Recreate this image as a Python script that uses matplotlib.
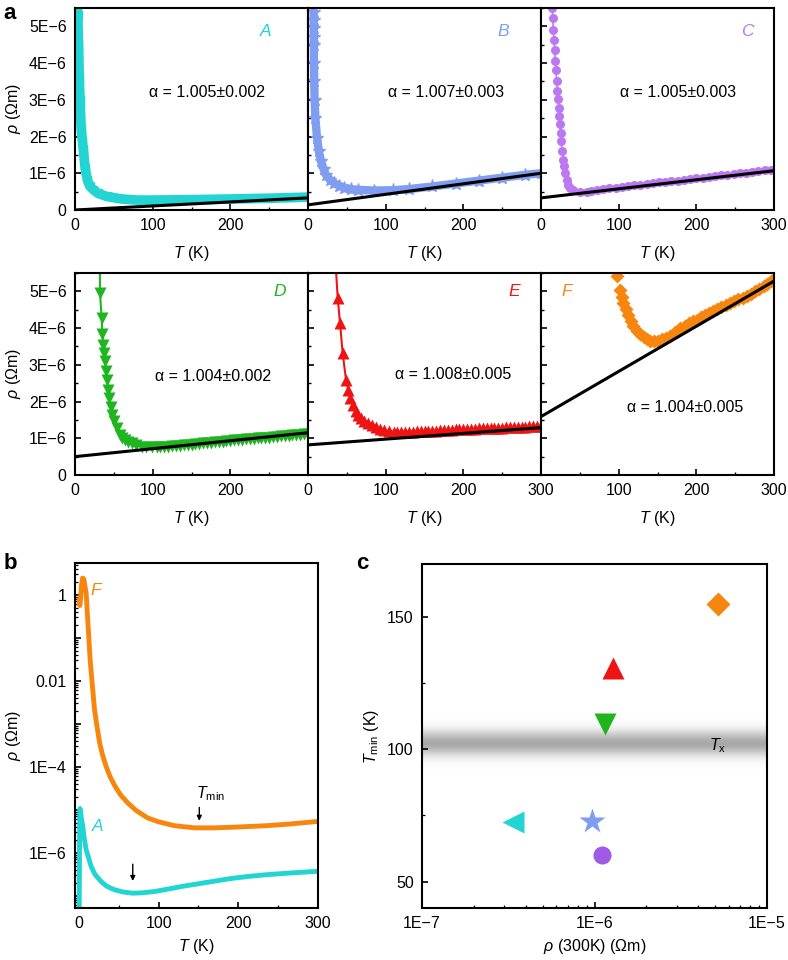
import numpy as np
import matplotlib
matplotlib.use('Agg')
import matplotlib.pyplot as plt
from matplotlib.ticker import FixedLocator, MultipleLocator, LogLocator, FuncFormatter, NullFormatter

plt.rcParams['font.family'] = ['Liberation Sans', 'DejaVu Sans']
plt.rcParams['mathtext.fontset'] = 'custom'
plt.rcParams['mathtext.rm'] = 'Liberation Sans'
plt.rcParams['mathtext.it'] = 'Liberation Sans:italic'
plt.rcParams['mathtext.bf'] = 'Liberation Sans:bold'
plt.rcParams['axes.unicode_minus'] = True

# ---------------- panel a data (rho in units of 1E-6 Ohm m) ----------------
A_T = [2.5, 3.5, 4.5, 5.5, 6.4, 8.0, 10.7, 13.0, 15.9, 19.0, 23.6, 30.0, 40.8, 60.0, 80.0, 100.0, 150.0, 200.0, 250.0, 300.0]
A_rho = [6.0, 5.3, 4.5, 3.6, 3.0, 2.2, 1.65, 1.15, 0.82, 0.65, 0.55, 0.45, 0.37, 0.30, 0.27, 0.27, 0.28, 0.30, 0.32, 0.35]

B_T = [7.2, 7.3, 7.4, 7.5, 7.6, 7.7, 8.0, 8.5, 9.5, 11.6, 14.0, 16.7, 20.0, 23.0, 28.0, 34.0, 40.0, 46.8, 55.0, 64.0,
       85.0, 110.0, 130.0, 160.0, 190.0, 220.0, 250.0, 280.0, 300.0]
B_rho = [5.40, 5.17, 4.95, 4.72, 4.49, 4.0, 3.5, 3.0, 2.5, 1.97, 1.6, 1.33, 1.12, 0.96, 0.83, 0.73, 0.66, 0.61, 0.57, 0.55,
         0.53, 0.54, 0.57, 0.64, 0.72, 0.80, 0.88, 0.96, 1.00]

C_T = [14.6, 15.0, 15.9, 16.7, 17.6, 18.4, 19.3, 20.2, 21.0, 22.3, 23.2, 23.6, 24.5, 25.3, 26.2, 27.0, 28.7, 29.6, 31.3, 33.0,
       35.1, 37.3, 41.6, 50.2, 58.8, 65, 72, 80, 88, 96, 104, 112, 120, 128, 136, 144, 152, 160, 168, 176, 184, 192, 200,
       208, 216, 224, 232, 240, 248, 256, 264, 272, 280, 288, 296]
C_rho = [5.49, 5.22, 4.90, 4.62, 4.35, 4.07, 3.80, 3.52, 3.25, 3.02, 2.79, 2.56, 2.34, 2.11, 1.88, 1.60, 1.37, 1.19, 1.01, 0.82,
         0.69, 0.60, 0.55, 0.50, 0.48, 0.53, 0.55, 0.57, 0.59, 0.61, 0.63, 0.65, 0.67, 0.69, 0.71, 0.73, 0.75, 0.77, 0.79, 0.80,
         0.82, 0.84, 0.86, 0.88, 0.90, 0.92, 0.94, 0.96, 0.98, 1.00, 1.02, 1.04, 1.06, 1.08, 1.10]

D_T = [32.0, 32.2, 34.3, 35.2, 36.5, 37.3, 38.6, 39.9, 41.2, 42.9, 44.2, 45.9, 48.0, 50.6, 53.6, 57.9, 61.0, 64.4, 68.0, 72.9,
       78.0, 85.8, 92.0, 98.7, 105, 110, 115, 120, 125, 130, 135, 140, 145, 150, 155, 160, 165, 170, 175, 180, 185, 190,
       195, 200, 205, 210, 215, 220, 225, 230, 235, 240, 245, 250, 255, 260, 265, 270, 275, 280, 285, 290, 295, 300]
D_rho = [5.7, 4.96, 4.28, 3.83, 3.55, 3.32, 3.10, 2.82, 2.59, 2.32, 2.09, 1.86, 1.64, 1.46, 1.27, 1.09, 1.02, 0.96, 0.91, 0.86,
         0.81, 0.77, 0.76, 0.75, 0.75, 0.75, 0.76, 0.77, 0.78, 0.79, 0.80, 0.81, 0.82, 0.83, 0.84, 0.85, 0.86, 0.87, 0.88, 0.89,
         0.90, 0.91, 0.92, 0.93, 0.94, 0.95, 0.96, 0.97, 0.98, 0.99, 1.00, 1.00, 1.01, 1.02, 1.03, 1.04, 1.05, 1.06, 1.07, 1.08,
         1.09, 1.10, 1.11, 1.12]

E_T = [36.0, 38.2, 41.2, 44.6, 48.9, 51.9, 54.5, 57.5, 61.8, 65.0, 68.2, 72.0, 76.8, 82.0, 87.5, 93.0, 98.2, 104.0, 111.0,
       115, 120, 125, 130, 135, 140, 145, 150, 155, 160, 165, 170, 175, 180, 185, 190, 195, 200, 205, 210, 215, 220, 225,
       230, 235, 240, 245, 250, 255, 260, 265, 270, 275, 280, 285, 290, 295, 300]
E_rho = [5.6, 4.83, 4.14, 3.32, 2.60, 2.32, 2.10, 1.91, 1.73, 1.63, 1.55, 1.47, 1.41, 1.35, 1.30, 1.26, 1.23, 1.20, 1.18,
         1.18, 1.18, 1.18, 1.18, 1.18, 1.19, 1.19, 1.20, 1.20, 1.21, 1.21, 1.22, 1.22, 1.23, 1.23, 1.24, 1.24, 1.25, 1.25, 1.26,
         1.26, 1.27, 1.27, 1.28, 1.28, 1.29, 1.29, 1.29, 1.30, 1.30, 1.31, 1.31, 1.32, 1.32, 1.33, 1.33, 1.34, 1.34]

F_T = [98.2, 101.7, 104, 106, 109, 112.5, 116, 119, 123, 127.5, 132, 136, 140, 145, 150, 155.6, 161, 166, 172, 179, 185, 191,
       196, 200.6, 206, 211, 216, 222, 227, 232, 238, 243.6, 249, 254, 260, 265, 270, 276, 281, 286.6, 291, 296, 299.5]
F_rho = [5.42, 5.05, 4.85, 4.69, 4.52, 4.37, 4.20, 4.05, 3.93, 3.83, 3.75, 3.69, 3.66, 3.64, 3.65, 3.69, 3.72, 3.78, 3.88, 4.00,
         4.07, 4.13, 4.19, 4.23, 4.29, 4.35, 4.40, 4.46, 4.51, 4.57, 4.63, 4.69, 4.74, 4.78, 4.83, 4.87, 4.93, 5.00, 5.07, 5.14,
         5.20, 5.27, 5.33]

# linear fits: value at T = 0 K and T = 300 K
FIT_T = [0, 300]
A_fit = [0.00, 0.33]
B_fit = [0.14, 1.00]
C_fit = [0.33, 1.07]
D_fit = [0.50, 1.15]
E_fit = [0.82, 1.29]
F_fit = [1.59, 5.28]

alpha_labels = ['α = 1.005±0.002', 'α = 1.007±0.003', 'α = 1.005±0.003',
                'α = 1.004±0.002', 'α = 1.008±0.005', 'α = 1.004±0.005']
sample_names = ['A', 'B', 'C', 'D', 'E', 'F']

# ---------------- panel b data (log10 rho) ----------------
bA_T = [0.3, 0.5, 0.7, 0.9, 1.2, 2.0, 3.0, 4.8, 6.5, 9.0, 15.3, 20.0, 27.8, 35.0, 44.5, 55.0, 67.5, 80.0, 95.0, 110.0, 130.0,
        150.0, 170.0, 190.0, 212.0, 235.0, 265.0, 300.0]
bA_logrho = [-7.3, -6.6, -5.8, -5.2, -4.97, -5.05, -5.2, -5.39, -5.65, -5.93, -6.32, -6.5, -6.67, -6.78, -6.86, -6.91, -6.94,
             -6.93, -6.90, -6.85, -6.78, -6.72, -6.66, -6.6, -6.55, -6.51, -6.47, -6.43]
bF_T = [0.3, 1.0, 2.0, 3.0, 4.5, 6.0, 7.5, 9.0, 11.5, 14.0, 16.5, 19.5, 22.5, 26.0, 29.5, 34.0, 39.5, 45.5, 52.5, 61.2, 72.0,
        86.3, 100.0, 119.8, 145.0, 170.0, 200.0, 235.0, 265.0, 300.0]
bF_logrho = [-0.1, -0.25, -0.1, 0.2, 0.39, 0.37, 0.2, 0.04, -0.74, -1.51, -2.05, -2.67, -3.05, -3.45, -3.72, -3.99, -4.25,
             -4.46, -4.66, -4.84, -5.02, -5.19, -5.28, -5.37, -5.42, -5.42, -5.40, -5.37, -5.33, -5.27]

# ---------------- panel c data ----------------
c_rho300 = [3.37e-7, 9.7e-7, 1.1e-6, 1.15e-6, 1.28e-6, 5.2e-6]
c_Tmin = [72.6, 73.0, 60.0, 109.4, 130.8, 155.0]
Tx_value = 102.3

# ---------------- styles ----------------
colors = {'A': '#22d4d2', 'B': '#7f9ef2', 'C': '#bb78f0', 'D': '#1fb51f', 'E': '#ee1414', 'F': '#f7860f'}
c_colors = ['#22d4d2', '#7f9ef2', '#9f5ae6', '#1fb51f', '#ee1414', '#f7860f']
c_markers = ['<', '*', 'o', 'v', '^', 'D']
c_sizes = [16, 19, 13, 16, 16, 12]

FS = 11.5
fig = plt.figure(figsize=(7.88, 9.6), dpi=100)

W = 233 / 788
H = 202 / 960
xs = [75 / 788, 308 / 788, 541 / 788]
ys = [1 - 210 / 960, 1 - 475 / 960]

minus = '\u2212'
def a_yfmt(v, pos):
    if abs(v) < 1e-9:
        return '0'
    return '%dE%s6' % (round(v), minus)

def style_a(ax, show_y, xl):
    ax.set_xlim(0, 300)
    ax.set_ylim(0, 5.5)
    ax.xaxis.set_major_locator(FixedLocator([0, 100, 200, 300]))
    ax.xaxis.set_minor_locator(MultipleLocator(50))
    ax.yaxis.set_major_locator(FixedLocator([0, 1, 2, 3, 4, 5]))
    ax.yaxis.set_minor_locator(MultipleLocator(0.5))
    ax.xaxis.set_major_formatter(FuncFormatter(lambda v, p: ('%d' % v) if int(round(v)) in xl else ''))
    if show_y:
        ax.yaxis.set_major_formatter(FuncFormatter(a_yfmt))
        ax.set_ylabel('$\\rho$ (Ωm)', fontsize=FS, labelpad=4)
    else:
        ax.yaxis.set_major_formatter(NullFormatter())
    ax.tick_params(which='both', direction='in', top=False, right=False, labelsize=FS, pad=6)
    ax.tick_params(which='major', length=4.5, width=1.2)
    ax.tick_params(which='minor', length=2.5, width=1.0)
    for s in ax.spines.values():
        s.set_linewidth(1.5)
    ax.set_xlabel('$T$ (K)', fontsize=FS, labelpad=8)

series = [
    (A_T, A_rho, A_fit), (B_T, B_rho, B_fit), (C_T, C_rho, C_fit),
    (D_T, D_rho, D_fit), (E_T, E_rho, E_fit), (F_T, F_rho, F_fit),
]
xlabel_sets = [{0, 100, 200}, {0, 100, 200}, {0, 100, 200, 300},
               {0, 100, 200}, {0, 100, 200, 300}, {100, 200, 300}]
name_pos = [(245, 4.86), (252, 4.86), (266, 4.86), (264, 5.0), (266, 5.0), (33, 5.0)]
alpha_pos = [(170, 3.2), (178, 3.2), (176, 3.2), (178, 2.68), (187, 2.73), (185, 1.83)]

for i in range(6):
    r, c = divmod(i, 3)
    ax = fig.add_axes([xs[c], ys[r], W, H])
    name = sample_names[i]
    col = colors[name]
    T, rho, fit = series[i]
    if name == 'A':
        ax.plot(T, rho, '-', color=col, lw=7, solid_capstyle='round', zorder=2)
        ax.plot(T, rho, '<', color=col, ms=6, zorder=2)
    elif name == 'B':
        ax.plot(T, rho, '-', color=col, lw=6, solid_capstyle='round', zorder=2)
        ax.plot(T, rho, '*', color=col, ms=9.5, zorder=2)
    elif name == 'C':
        ax.plot(T, rho, '-', color=col, lw=1.2, zorder=2)
        ax.plot(T, rho, 'o', color=col, ms=6.5, mec='none', zorder=2)
    elif name == 'D':
        ax.plot(T, rho, '-', color=col, lw=1.5, zorder=2)
        ax.plot(T[1:], rho[1:], 'v', color=col, ms=8.5, mec='none', zorder=2)
    elif name == 'E':
        ax.plot(T, rho, '-', color=col, lw=1.5, zorder=2)
        ax.plot(T[1:], rho[1:], '^', color=col, ms=8.5, mec='none', zorder=2)
    else:
        ax.plot(T, rho, 'D', color=col, ms=7.5, mec='none', zorder=2)
    ax.plot(FIT_T, fit, '-', color='black', lw=2.2, zorder=3, solid_capstyle='butt')
    ax.text(*name_pos[i], name, color=col, style='italic', fontsize=12.5, ha='center', va='center')
    ax.text(*alpha_pos[i], alpha_labels[i], fontsize=FS, ha='center', va='center')
    style_a(ax, c == 0, xlabel_sets[i])

fig.text(0.004, 0.997, 'a', fontsize=16, fontweight='bold', ha='left', va='top')

# ---------------- panel b ----------------
axb = fig.add_axes([75 / 788, 1 - 908 / 960, 243 / 788, 345 / 960])
axb.plot(bF_T, 10 ** np.array(bF_logrho), '-', color=colors['F'], lw=3.5, solid_capstyle='round')
axb.plot(bA_T, 10 ** np.array(bA_logrho), '-', color=colors['A'], lw=3.5, solid_capstyle='round')
axb.set_yscale('log')
axb.set_xlim(-5, 300)
axb.set_ylim(5.2e-8, 5.5)
axb.xaxis.set_major_locator(FixedLocator([0, 100, 200, 300]))
axb.xaxis.set_minor_locator(MultipleLocator(50))
axb.yaxis.set_major_locator(LogLocator(base=10, numticks=30))
axb.yaxis.set_minor_locator(LogLocator(base=10, subs=np.arange(2, 10), numticks=30))
b_labels = {0: '1', -2: '0.01', -4: '1E' + minus + '4', -6: '1E' + minus + '6'}
axb.yaxis.set_major_formatter(FuncFormatter(lambda v, p: b_labels.get(int(round(np.log10(v))), '')))
axb.yaxis.set_minor_formatter(NullFormatter())
axb.tick_params(which='both', direction='in', top=False, right=False, labelsize=FS, pad=6)
axb.tick_params(which='major', length=4.5, width=1.2)
axb.tick_params(which='minor', length=2.5, width=0.9)
for s in axb.spines.values():
    s.set_linewidth(1.5)
axb.set_xlabel('$T$ (K)', fontsize=FS, labelpad=4)
axb.set_ylabel('$\\rho$ (Ωm)', fontsize=FS, labelpad=4)
axb.text(21.6, 10 ** 0.1, 'F', color=colors['F'], style='italic', fontsize=12.5, ha='center', va='center')
axb.text(23.6, 10 ** -5.39, 'A', color=colors['A'], style='italic', fontsize=12.5, ha='center', va='center')
axb.annotate('', xy=(151, 10 ** -5.32), xytext=(151, 10 ** -4.88),
             arrowprops=dict(arrowstyle='-|>', color='black', lw=1.0, mutation_scale=7))
axb.text(147, 10 ** -4.62, '$T_{\\mathrm{min}}$', fontsize=FS, ha='left', va='center')
axb.annotate('', xy=(67.5, 10 ** -6.72), xytext=(67.5, 10 ** -6.2),
             arrowprops=dict(arrowstyle='-|>', color='black', lw=1.0, mutation_scale=7))
fig.text(0.004, 1 - 553 / 960, 'b', fontsize=16, fontweight='bold', ha='left', va='top')

# ---------------- panel c ----------------
axc = fig.add_axes([422 / 788, 1 - 908 / 960, 345 / 788, 344 / 960])
axc.set_xscale('log')
axc.set_xlim(1e-7, 1e-5)
axc.set_ylim(40, 170)
# gray gradient band around T_x
yy = np.linspace(Tx_value - 13, Tx_value + 13, 209)
dy = yy[1] - yy[0]
for yv in yy:
    g = 1 - 0.34 * np.exp(-((yv - Tx_value) / 4.6) ** 2)
    axc.axhspan(yv - dy / 2, yv + dy / 2, color=(g, g, g), lw=0, zorder=0)
for xv, yv, col, mk, ms in zip(c_rho300, c_Tmin, c_colors, c_markers, c_sizes):
    axc.plot([xv], [yv], marker=mk, color=col, ms=ms, mec='none', ls='none', zorder=3)
axc.text(5.2e-6, 101.2, '$T_{\\mathrm{x}}$', fontsize=FS, ha='center', va='center')
axc.yaxis.set_major_locator(FixedLocator([50, 100, 150]))
axc.yaxis.set_minor_locator(FixedLocator([75, 125]))
c_labels = {-7: '1E' + minus + '7', -6: '1E' + minus + '6', -5: '1E' + minus + '5'}
axc.xaxis.set_major_locator(LogLocator(base=10, numticks=10))
axc.xaxis.set_minor_locator(LogLocator(base=10, subs=np.arange(2, 10), numticks=10))
axc.xaxis.set_major_formatter(FuncFormatter(lambda v, p: c_labels.get(int(round(np.log10(v))), '')))
axc.xaxis.set_minor_formatter(NullFormatter())
axc.tick_params(which='both', direction='in', top=False, right=False, labelsize=FS, pad=6)
axc.tick_params(which='major', length=4.5, width=1.2)
axc.tick_params(which='minor', length=2.5, width=0.9)
for s in axc.spines.values():
    s.set_linewidth(1.5)
axc.set_xlabel('$\\rho$ (300K) (Ωm)', fontsize=FS, labelpad=4)
axc.set_ylabel('$T_{\\mathrm{min}}$ (K)', fontsize=FS, labelpad=4)
fig.text(356 / 788, 1 - 553 / 960, 'c', fontsize=16, fontweight='bold', ha='left', va='top')

fig.savefig('out.png', dpi=100)
